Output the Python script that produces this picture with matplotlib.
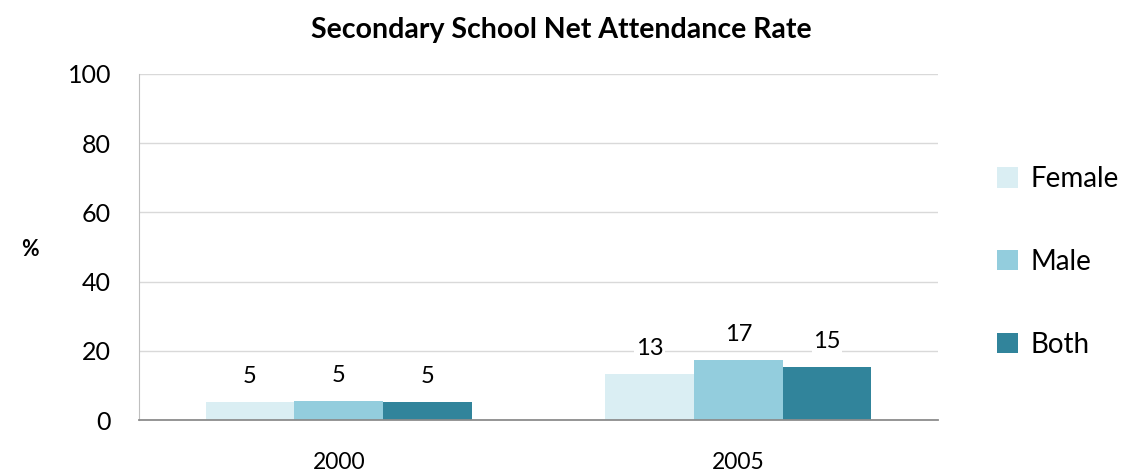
import matplotlib
matplotlib.use("Agg")
import matplotlib.pyplot as plt
import numpy as np

categories = ["2000", "2005"]
series_names = ["Female", "Male", "Both"]
female = [5.2, 13.3]
male = [5.4, 17.2]
both = [5.2, 15.3]
labels = [["5", "13"], ["5", "17"], ["5", "15"]]
colors = ["#DAEEF3", "#93CDDD", "#31849B"]

plt.rcParams['font.family'] = ['Lato', 'DejaVu Sans']

fig = plt.figure(figsize=(11.32, 4.72), dpi=100)
ax = fig.add_axes([139/1132, 1-420/472, (938-139)/1132, (420-74)/472])

x = np.arange(len(categories))
w = 0.222
data = [female, male, both]
for i, (vals, name, c) in enumerate(zip(data, series_names, colors)):
    pos = x + (i - 1) * w
    ax.bar(pos, vals, width=w, color=c, label=name, zorder=2)
    for p, v, t in zip(pos, vals, labels[i]):
        ax.text(p, v + 7.4, t, ha='center', va='center', fontsize=17, zorder=3,
                bbox=dict(facecolor='white', edgecolor='none', pad=1))

ax.set_xlim(-0.5, 1.5)
ax.set_ylim(0, 100)
ax.set_yticks([0, 20, 40, 60, 80, 100])
ax.set_xticks(x)
ax.set_xticklabels(categories, fontsize=16.5)
ax.tick_params(axis='x', length=0, pad=23)
ax.tick_params(axis='y', length=0, pad=20, labelsize=18)
ax.grid(axis='y', color='#D9D9D9', linewidth=1, zorder=0)
for s in ['top', 'right']:
    ax.spines[s].set_visible(False)
ax.spines['left'].set_color('#BFBFBF')
ax.spines['bottom'].set_color('#8C8C8C')
ax.spines['bottom'].set_linewidth(1.3)
ax.spines['bottom'].set_zorder(4)

fig.text(561/1132, 1-30/472, "Secondary School Net Attendance Rate", ha='center', va='center',
         fontsize=20.5, fontweight='bold')
fig.text(30/1132, 1-250/472, "%", ha='center', va='center', fontsize=15.5, fontweight='bold')

leg = fig.legend(loc='center left', bbox_to_anchor=(997/1132, 1-262/472), frameon=False,
                 fontsize=20, handlelength=0.75, handleheight=0.75, handletextpad=0.45,
                 labelspacing=2.05, borderpad=0, borderaxespad=0)

fig.savefig("out.png", dpi=100)
